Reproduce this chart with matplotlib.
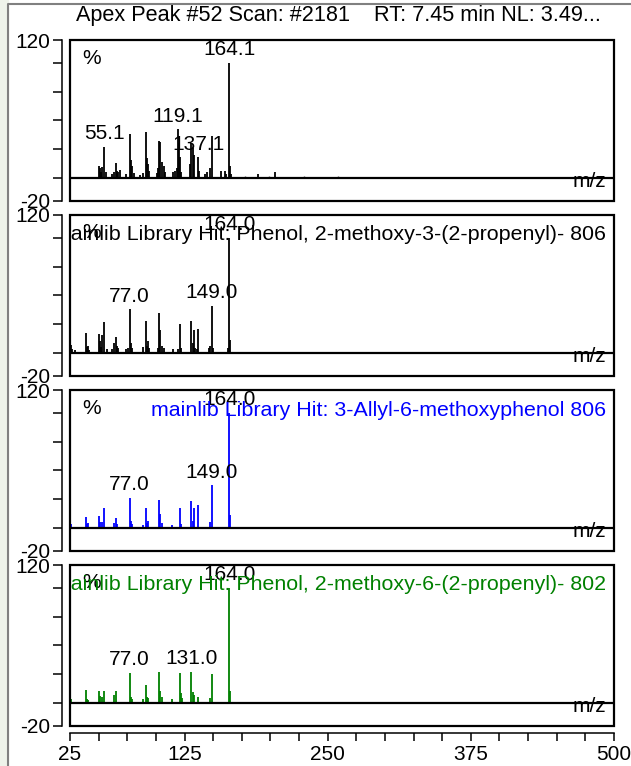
import matplotlib
matplotlib.use("Agg")
import matplotlib.pyplot as plt
from matplotlib.patches import Rectangle
from matplotlib.lines import Line2D
import matplotlib.transforms as mtransforms

plt.rcParams["font.family"] = ["Liberation Sans", "DejaVu Sans"]

# %% data
title = "Apex Peak #52 Scan: #2181    RT: 7.45 min NL: 3.49..."

scan_mz = [50, 51, 52, 53, 55, 56, 62, 63, 65, 66, 67, 69, 74, 77, 78, 79, 81,
           86, 89, 91, 92, 93, 94, 101, 102, 103, 104, 105, 107, 108, 115, 117,
           118, 119, 120, 121, 122, 130, 131, 132, 133, 137, 138, 143, 145, 147,
           149, 157, 160, 161, 164, 165, 166, 189, 204]
scan_int = [10, 8, 5, 9, 27, 5, 3, 5, 13, 6, 5, 7, 3, 38, 15, 10, 4,
            2, 4, 40, 17, 12, 6, 4, 8, 32, 31, 14, 10, 5, 5, 6,
            8, 42, 30, 18, 5, 12, 30, 26, 20, 18, 6, 3, 5, 8,
            36, 6, 6, 3, 100, 10, 3, 3, 5]
# low-level noise along the baseline of the scan
noise_mz = [171, 178, 185, 193, 199, 209, 215, 222, 229, 237, 244, 252, 259,
            267, 274, 281, 289, 297, 307, 318, 327, 341, 355, 368, 383, 397,
            412, 428, 441, 457, 471]
noise_int = [1.0, 1.2, 0.8, 1.0, 1.1, 0.9, 1.0, 0.8, 1.2, 0.9, 1.0, 0.8, 1.1,
             0.9, 1.0, 0.8, 1.0, 0.9, 0.8, 1.0, 0.9, 0.8, 1.0, 0.8, 0.9, 0.8,
             0.9, 0.8, 0.8, 0.9, 0.8]

lib1_mz = [26, 27, 29, 39, 40, 41, 42, 50, 51, 52, 53, 55, 57, 62, 63, 65, 66,
           67, 74, 76, 77, 78, 79, 89, 91, 92, 93, 94, 102, 103, 104, 105, 107,
           115, 119, 121, 122, 131, 132, 133, 134, 136, 137, 146, 147, 149, 150,
           163, 164, 165]
lib1_int = [7, 3, 2, 17, 5, 6, 2, 16, 10, 5, 15, 27, 3, 3, 8, 14, 6,
            4, 3, 4, 38, 8, 4, 5, 28, 6, 10, 4, 4, 35, 20, 6, 4,
            3, 3, 25, 4, 28, 8, 20, 4, 3, 21, 4, 6, 41, 4,
            4, 100, 11]

lib2_mz = [26, 39, 40, 41, 50, 51, 53, 55, 63, 65, 66, 77, 78, 79, 89, 91, 92,
           93, 103, 104, 105, 114, 121, 122, 131, 132, 133, 137, 147, 149, 164,
           165]
lib2_int = [3, 9, 3, 4, 10, 5, 5, 17, 4, 8, 3, 26, 6, 3, 2, 17, 4,
            6, 24, 12, 4, 2, 17, 3, 23, 6, 17, 19.5, 5, 37, 100,
            11]

lib3_mz = [26, 39, 40, 41, 50, 51, 53, 55, 63, 65, 77, 78, 79, 89, 91, 92, 93,
           103, 104, 105, 114, 121, 122, 123, 131, 132, 133, 137, 147, 149, 164,
           165]
lib3_int = [3.5, 11, 3, 2, 10, 6, 5, 10, 7, 10, 26, 5, 3, 3, 15, 5, 4,
            27, 10, 5, 3, 26, 8, 4, 27, 9, 7, 5, 4, 25, 100,
            10]

panel_mz = [scan_mz, lib1_mz, lib2_mz, lib3_mz]
panel_int = [scan_int, lib1_int, lib2_int, lib3_int]
panel_color = ["black", "black", "#0000ff", "#008000"]
panel_text = [None,
              "mainlib Library Hit: Phenol, 2-methoxy-3-(2-propenyl)- 806",
              "mainlib Library Hit: 3-Allyl-6-methoxyphenol 806",
              "mainlib Library Hit: Phenol, 2-methoxy-6-(2-propenyl)- 802"]
peak_labels = [[(55, "55.1"), (119, "119.1"), (137, "137.1"), (164, "164.1")],
               [(77, "77.0"), (149, "149.0"), (164, "164.0")],
               [(77, "77.0"), (149, "149.0"), (164, "164.0")],
               [(77, "77.0"), (131, "131.0"), (164, "164.0")]]

x_ticks = list(range(25, 501, 25))
x_labels = {25: "25", 125: "125", 250: "250", 375: "375", 500: "500"}
y_ticks = [-20, 0, 25, 50, 75, 100, 120]
y_labels = ["-20", "", "", "", "", "", "120"]

# %% figure
W, H = 631, 766
fig = plt.figure(figsize=(W / 100, H / 100), dpi=100)
fs = 15

# window frame on the left / top
fig.patches.append(Rectangle((0, 0), 8 / W, 1, transform=fig.transFigure,
                             color="#eef3ea", zorder=0))
fig.lines.append(Line2D([8 / W, 8 / W, 1], [0, 1 - 4 / H, 1 - 4 / H],
                        transform=fig.transFigure, color="#808080", lw=1.5))

fig.text(338 / W, 1 - 15 / H, title, ha="center", va="center", fontsize=15.6)

box_left, box_right = 70, 614
box_h = 160.6
tops = [40, 215, 390, 565]

for i, top in enumerate(tops):
    ax = fig.add_axes([box_left / W, 1 - (top + box_h) / H,
                       (box_right - box_left) / W, box_h / H])
    ax.set_xlim(25, 500)
    ax.set_ylim(-20, 120)
    for s in ["top", "right", "bottom"]:
        ax.spines[s].set_visible(False)
    ax.spines["left"].set_position(("outward", 5.8))
    ax.spines["left"].set_linewidth(1.1)
    ax.add_patch(Rectangle((0, 0), 1, 1, transform=ax.transAxes, fill=False,
                           lw=1.6, ec="black", clip_on=False, zorder=5))
    ax.set_yticks(y_ticks)
    ax.set_yticklabels(y_labels)
    ax.tick_params(axis="y", length=6.5, width=1.1, labelsize=fs, pad=2)

    if i == 3:
        ax.spines["bottom"].set_visible(True)
        ax.spines["bottom"].set_position(("outward", 5.3))
        ax.spines["bottom"].set_linewidth(1.1)
        ax.set_xticks(x_ticks)
        ax.set_xticklabels([x_labels.get(t, "") for t in x_ticks])
        ax.tick_params(axis="x", length=5.5, width=1.1, labelsize=fs, pad=3)
    else:
        ax.set_xticks([])

    c = panel_color[i]
    if i == 0:
        ax.vlines(noise_mz, 0, noise_int, color="#606060", lw=1.0)
    ax.vlines(panel_mz[i], 0, panel_int[i], color=c, lw=1.3)
    ax.axhline(0, color="black", lw=1.6, zorder=4)

    lookup = dict(zip(panel_mz[i], panel_int[i]))
    for mz, lbl in peak_labels[i]:
        ax.annotate(lbl, (mz, lookup[mz]), xytext=(0, 2.5),
                    textcoords="offset points", ha="center", va="bottom",
                    fontsize=fs, color="black")

    ax.text(21.5 / (box_right - box_left), 1 - 18 / box_h, "%",
            transform=ax.transAxes, ha="center", va="center", fontsize=fs)
    if panel_text[i]:
        ax.text(0.985, 1 - 20 / box_h, panel_text[i], transform=ax.transAxes,
                ha="right", va="center", fontsize=15.4, color=c, clip_on=True)

    trans = mtransforms.blended_transform_factory(ax.transAxes, ax.transData)
    ax.annotate("m/z", (0.985, 0), xycoords=trans, xytext=(0, -3),
                textcoords="offset points", ha="right", va="center",
                fontsize=fs)

fig.savefig("out.png", dpi=100)
